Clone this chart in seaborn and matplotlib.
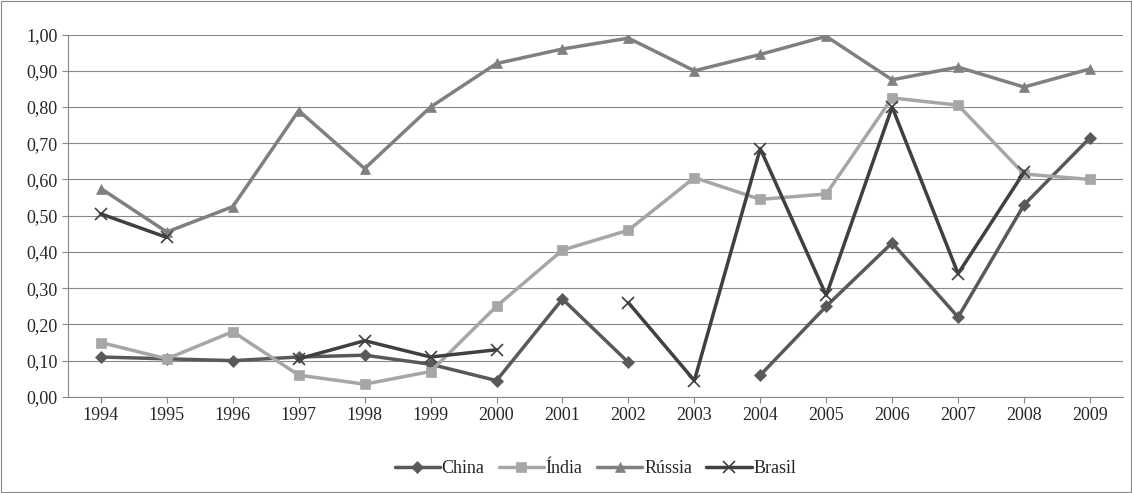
import numpy as np
import matplotlib.pyplot as plt
import seaborn as sns

years = [str(y) for y in range(1994, 2010)]
nan = np.nan
china = [0.11, 0.105, 0.10, 0.11, 0.115, 0.09, 0.045, 0.27, 0.095, nan, 0.06, 0.25, 0.425, 0.22, 0.53, 0.715]
india = [0.15, 0.105, 0.18, 0.06, 0.035, 0.07, 0.25, 0.405, 0.46, 0.605, 0.545, 0.56, 0.825, 0.805, 0.615, 0.60]
russia = [0.575, 0.455, 0.525, 0.79, 0.63, 0.80, 0.92, 0.96, 0.99, 0.90, 0.945, 0.995, 0.875, 0.91, 0.855, 0.905]
brasil = [0.505, 0.44, nan, 0.105, 0.155, 0.11, 0.13, nan, 0.26, 0.045, 0.685, 0.28, 0.80, 0.34, 0.62, nan]

sns.set_style("white")
plt.rcParams['font.family'] = ['Liberation Serif', 'DejaVu Serif']

fig = plt.figure(figsize=(11.32, 4.93), dpi=100)
ax = fig.add_axes([0.060, 0.195, 0.932, 0.735])
fig.patches.append(plt.Rectangle((0.001, 0.002), 0.998, 0.996, transform=fig.transFigure,
                                 fill=False, edgecolor='#888888', lw=0.8))

x = np.arange(len(years))
series = [("China", china, '#595959', 'D', 6),
          ("Índia", india, '#a6a6a6', 's', 7),
          ("Rússia", russia, '#808080', '^', 7),
          ("Brasil", brasil, '#404040', 'x', 8)]
for name, vals, col, mk, ms in series:
    ax.plot(x, vals, color=col, lw=2.5, marker=mk, markersize=ms, label=name,
            markeredgewidth=1.2 if mk == 'x' else 0.5)

ax.set_xlim(-0.5, len(years) - 0.5)
ax.set_ylim(0, 1.0)
ax.set_yticks(np.arange(0, 1.01, 0.1))
ax.set_yticklabels([f"{v:.2f}".replace('.', ',') for v in np.arange(0, 1.01, 0.1)], fontsize=13)
ax.set_xticks(x)
ax.set_xticklabels(years, fontsize=13)
ax.yaxis.grid(True, color='#888888', lw=0.8)
for s in ['top', 'right']:
    ax.spines[s].set_visible(False)
ax.spines['left'].set_color('#888888')
ax.spines['bottom'].set_color('#888888')
ax.tick_params(axis='x', length=4, color='#888888', bottom=True)
ax.tick_params(axis='y', length=4, color='#888888', left=True)

ax.legend(loc='upper center', bbox_to_anchor=(0.5, -0.13), ncol=4, frameon=False,
          fontsize=13, handlelength=2.5, columnspacing=0.8, handletextpad=0.1)

fig.savefig("out.png", dpi=100)
